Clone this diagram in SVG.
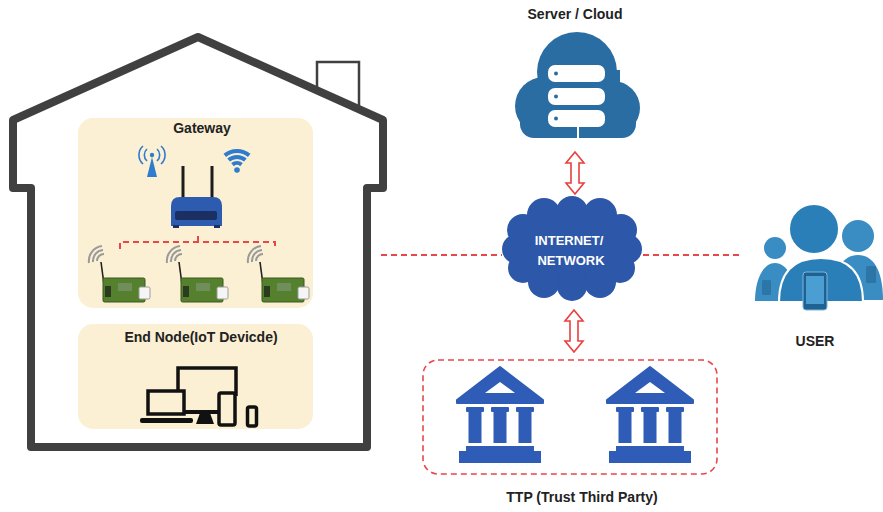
<svg xmlns="http://www.w3.org/2000/svg" width="883" height="512" viewBox="0 0 883 512">
  <defs>
    <style>
      .label { font-family: "Liberation Sans", Arial, sans-serif; font-weight: bold; font-size: 14px; fill: #222; text-anchor: middle; }
      .cloudtext { font-family: "Liberation Sans", Arial, sans-serif; font-weight: bold; font-size: 13px; fill: #ffffff; text-anchor: middle; }
      .panel { fill: #fbf0d3; }
      .dash { fill: none; stroke: #e8474a; stroke-width: 2; stroke-dasharray: 6 4; }
      .dbl { fill: #ffffff; stroke: #e8403d; stroke-width: 1.6; stroke-linejoin: miter; }
      .bank { fill: #2e5cb6; }
      .dev { fill: #fbf0d3; stroke: #111; stroke-width: 3.5; }
    </style>
    <!-- vertical double-headed outline arrow, 42 tall -->
    <path id="dblArrow" class="dbl" d="M0,0 L9,11 L4,11 L4,31 L9,31 L0,42 L-9,31 L-4,31 L-4,11 L-9,11 Z"/>
    <!-- bank building -->
    <g id="bankIcon">
      <path class="bank" d="M-43,33 L0,0 L43,33 V36 H-43 Z" stroke="#2e5cb6" stroke-width="2" stroke-linejoin="round"/>
      <path d="M-15,26 L0,15 L15,26 Z" fill="#ffffff"/>
      <rect class="bank" x="-34" y="40" width="18" height="5" rx="1"/>
      <rect class="bank" x="-31.5" y="44" width="13" height="32"/>
      <rect class="bank" x="-9" y="40" width="18" height="5" rx="1"/>
      <rect class="bank" x="-6.5" y="44" width="13" height="32"/>
      <rect class="bank" x="16" y="40" width="18" height="5" rx="1"/>
      <rect class="bank" x="18.5" y="44" width="13" height="32"/>
      <rect class="bank" x="-34" y="79" width="68" height="6"/>
      <rect class="bank" x="-41" y="84" width="82" height="12"/>
    </g>
    <!-- sensor board with antenna -->
    <g id="iotBoard">
      <path d="M-6,-17 A7,7 0 0,1 1,-24 M-10,-16 A11,11 0 0,1 0,-28 M-14,-15 A15,15 0 0,1 -1,-32" fill="none" stroke="#9a9a9a" stroke-width="2"/>
      <line x1="-2" y1="-16" x2="2" y2="14" stroke="#222" stroke-width="1.6"/>
      <rect x="0" y="0" width="42" height="24" rx="1.5" fill="#55802e" stroke="#3a5a1c" stroke-width="1"/>
      <rect x="2" y="8" width="6" height="11" fill="#2a3b1f"/>
      <rect x="15" y="5" width="14" height="8" fill="#6f8e5c"/>
      <rect x="36" y="9" width="11" height="12" rx="1.5" fill="#f5f5f5" stroke="#9b9b9b" stroke-width="1"/>
    </g>
  </defs>

  <rect width="883" height="512" fill="#ffffff"/>

  <!-- house outline -->
  <g id="house">
    <path d="M31,447 V188 H13 V120 L198,37 L383,120 V188 H367 V447 Z" fill="none" stroke="#404040" stroke-width="8" stroke-linejoin="round"/>
    <path d="M317,90 V62 H359 V111" fill="none" stroke="#404040" stroke-width="2.5"/>
  </g>

  <!-- gateway panel -->
  <g id="gateway">
    <rect class="panel" x="78" y="118" width="235" height="190" rx="15"/>
    <text class="label" x="202" y="133">Gateway</text>
    <!-- cell tower -->
    <g fill="none" stroke="#2e7bd0" stroke-width="1.6">
      <path d="M147,149 A8,8 0 0,0 147,161 M143,146 A12,12 0 0,0 143,164"/>
      <path d="M157,149 A8,8 0 0,1 157,161 M161,146 A12,12 0 0,1 161,164"/>
    </g>
    <circle cx="152" cy="155" r="2.2" fill="#2e7bd0"/>
    <path d="M152,157 L147,177 H157 Z" fill="#2e7bd0"/>
    <!-- wifi -->
    <g fill="none" stroke="#2e7bd0" stroke-width="4" stroke-linecap="butt">
      <path d="M232.5,164.6 A7,7 0 0,1 241.5,164.6"/>
      <path d="M228.6,160 A13,13 0 0,1 245.4,160"/>
      <path d="M224.8,155.4 A19,19 0 0,1 249.2,155.4"/>
    </g>
    <circle cx="237" cy="170" r="2.8" fill="#2e7bd0"/>
    <!-- router -->
    <line x1="183" y1="166" x2="183" y2="199" stroke="#1c1c1c" stroke-width="3"/>
    <line x1="212" y1="166" x2="212" y2="199" stroke="#1c1c1c" stroke-width="3"/>
    <path d="M171,226 V206 Q171,197 180,197 H213 Q222,197 222,206 V226 Z" fill="#2d5bb0"/>
    <rect x="175" y="211" width="42" height="9" rx="2" fill="#1b2f63"/>
    <rect x="173" y="225" width="6" height="3" fill="#1b2f63"/>
    <rect x="214" y="225" width="6" height="3" fill="#1b2f63"/>
    <!-- sensor boards -->
    <use href="#iotBoard" x="103" y="278"/>
    <use href="#iotBoard" x="181" y="278"/>
    <use href="#iotBoard" x="262" y="278"/>
  </g>

  <!-- end node panel -->
  <g id="end-node">
    <rect class="panel" x="78" y="324" width="235" height="105" rx="15"/>
    <text class="label" x="201" y="342">End Node(IoT Devicde)</text>
    <!-- monitor -->
    <path d="M178,396 V368 H236 V396" fill="none" stroke="#111" stroke-width="3.5"/>
    <line x1="184" y1="412" x2="219" y2="412" stroke="#111" stroke-width="4"/>
    <path d="M200,413 H210 L214,424 H196 Z" fill="#111"/>
    <!-- laptop -->
    <rect class="dev" x="148" y="391" width="36" height="23"/>
    <rect x="140" y="418" width="53" height="5" rx="2" fill="#111"/>
    <!-- tablet -->
    <rect class="dev" x="219" y="393" width="16" height="32" rx="2"/>
    <!-- phone -->
    <rect class="dev" x="247.5" y="407" width="9" height="19" rx="2" stroke-width="2.5"/>
  </g>

  <!-- server / cloud -->
  <g id="server-cloud">
    <text class="label" x="575" y="19">Server / Cloud</text>
    <g fill="#2a6da3">
      <circle cx="577" cy="72" r="40"/>
      <circle cx="544" cy="106" r="29"/>
      <circle cx="613" cy="108" r="27"/>
      <rect x="520" y="100" width="116" height="38" rx="14"/>
      <rect x="540" y="70" width="80" height="68"/>
    </g>
    <g fill="#ffffff">
      <rect x="548" y="65" width="57" height="17" rx="7"/>
      <rect x="548" y="88" width="57" height="17" rx="7"/>
      <rect x="548" y="110" width="57" height="17" rx="7"/>
      <rect x="577" y="127" width="2" height="11"/>
    </g>
    <g fill="#2a6da3">
      <circle cx="556" cy="73.5" r="2"/>
      <circle cx="556" cy="96.5" r="2"/>
      <circle cx="556" cy="118.5" r="2"/>
    </g>
  </g>

  <!-- internet / network -->
  <g id="internet">
    <g fill="#2d57a8">
      <ellipse cx="572" cy="249" rx="58" ry="40"/>
      <circle cx="627" cy="249" r="15"/>
      <circle cx="620" cy="268" r="15"/>
      <circle cx="600" cy="282" r="16"/>
      <circle cx="572" cy="286" r="15"/>
      <circle cx="544" cy="282" r="16"/>
      <circle cx="523" cy="268" r="15"/>
      <circle cx="517" cy="249" r="15"/>
      <circle cx="523" cy="230" r="16"/>
      <circle cx="544" cy="215" r="17"/>
      <circle cx="572" cy="212" r="16"/>
      <circle cx="600" cy="215" r="17"/>
      <circle cx="621" cy="230" r="16"/>
    </g>
    <text class="cloudtext" x="569" y="245">INTERNET/</text>
    <text class="cloudtext" x="571" y="265">NETWORK</text>
  </g>

  <!-- trusted third parties -->
  <g id="ttp">
    <rect x="423" y="360" width="294" height="114" rx="15" fill="none" stroke="#e8474a" stroke-width="1.6" stroke-dasharray="6 4"/>
    <use href="#bankIcon" x="500" y="367"/>
    <use href="#bankIcon" x="650" y="367"/>
    <text class="label" x="582" y="502">TTP (Trust Third Party)</text>
  </g>

  <!-- user group -->
  <g id="user">
    <g fill="#3a8dc2">
      <circle cx="775" cy="248" r="11"/>
      <path d="M755,301 C755,280 763,263 775,263 C787,263 796,280 796,301 Z"/>
      <circle cx="858" cy="236" r="16"/>
      <path d="M832,300 C832,270 843,255 858,255 C873,255 883,270 883,300 Z"/>
    </g>
    <rect x="762" y="280" width="9" height="15" rx="1.5" fill="#2a6f9f" opacity="0.8"/>
    <rect x="866" y="266" width="10" height="17" rx="1.5" fill="#2a6f9f" opacity="0.8"/>
    <g fill="#2b7fb8" stroke="#ffffff" stroke-width="2">
      <path d="M779,302 C779,272 794,258 821,258 C848,258 863,272 863,302 Z"/>
      <circle cx="814" cy="229" r="25"/>
    </g>
    <rect x="803" y="272" width="24" height="38" rx="3" fill="#1e6294" stroke="#7fb6da" stroke-width="1"/>
    <rect x="806" y="276" width="18" height="28" fill="#4a9ed2"/>
    <text class="label" x="815" y="346">USER</text>
  </g>

  <!-- connectors -->
  <g id="connectors">
    <path class="dash" d="M120,249 V242 H275 V249" stroke-width="1.6"/>
    <path class="dash" d="M198,242 V236" stroke-width="1.6" stroke-dasharray="none"/>
    <line class="dash" x1="381" y1="255" x2="502" y2="255"/>
    <line class="dash" x1="643" y1="255" x2="742" y2="255"/>
    <use href="#dblArrow" x="575" y="152"/>
    <use href="#dblArrow" x="574" y="310"/>
  </g>
</svg>
